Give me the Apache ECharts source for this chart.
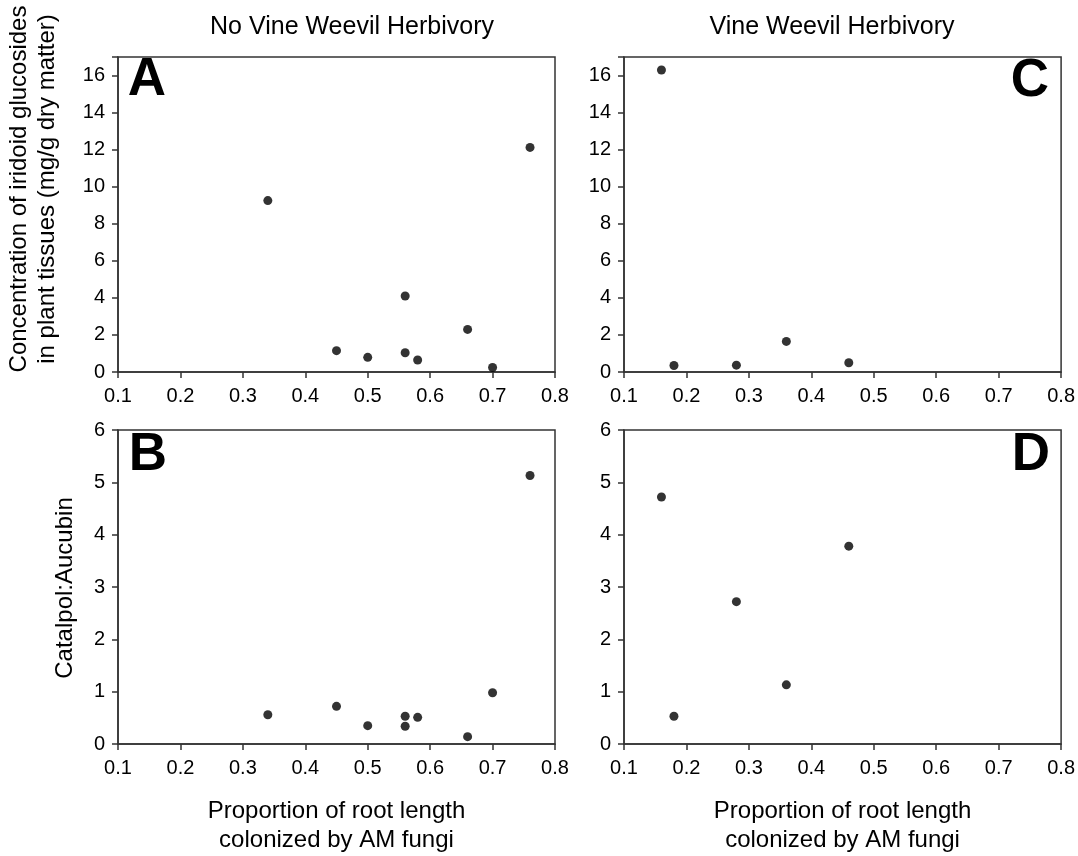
<!DOCTYPE html>
<html>
<head>
<meta charset="utf-8">
<script src="https://cdn.jsdelivr.net/npm/echarts@6/dist/echarts.min.js"></script>
<style>
  html, body { margin: 0; padding: 0; background: #fff; }
  #chart { width: 1078px; height: 856px; }
</style>
</head>
<body>
<div id="chart"></div>
<script>
// no vine weevil (A, B) share x values
const xNoWeevil = [0.34, 0.45, 0.50, 0.56, 0.56, 0.58, 0.66, 0.70, 0.76]
const concNoWeevil = [9.25, 1.15, 0.79, 4.10, 1.04, 0.65, 2.30, 0.24, 12.12]
const ratioNoWeevil = [0.56, 0.72, 0.35, 0.34, 0.53, 0.51, 0.14, 0.98, 5.13]

// vine weevil (C, D)
const xWeevil = [0.16, 0.18, 0.28, 0.36, 0.46]
const concWeevil = [16.3, 0.35, 0.37, 1.65, 0.50]
const ratioWeevil = [4.72, 0.53, 2.72, 1.13, 3.78]

const xTicks = [0.1, 0.2, 0.3, 0.4, 0.5, 0.6, 0.7, 0.8]

const FONT = "'Liberation Sans', Arial, sans-serif"
const lineColor = '#333'

const pair = (xs, ys) => xs.map((x, i) => [x, ys[i]])

const grids = [
  { left: 118, top: 57, width: 437, height: 315 },   // A
  { left: 118, top: 430, width: 437, height: 316 },  // B
  { left: 624, top: 57, width: 438, height: 315 },   // C
  { left: 624, top: 430, width: 438, height: 315 },  // D
].map(g => ({ ...g, show: true, borderColor: lineColor, borderWidth: 1.5, backgroundColor: '#fff' }))

const setXAxis = (idx, withName) => ({
  type: 'value',
  gridIndex: idx,
  min: 0.1,
  max: 0.8,
  interval: 0.1,
  splitLine: { show: false },
  axisLine: { show: true, onZero: false, lineStyle: { color: lineColor, width: 1.5 } },
  axisTick: { show: true, length: 6, lineStyle: { color: lineColor, width: 1.5 } },
  axisLabel: {
    margin: 14,
    color: '#000',
    fontSize: 20,
    fontFamily: FONT,
    formatter: (v) => xTicks.includes(Math.round(v * 10) / 10) ? v.toFixed(1) : '',
  },
  name: withName ? 'Proportion of root length\ncolonized by AM fungi' : '',
  nameLocation: 'middle',
  nameGap: 53,
  nameTextStyle: { color: '#000', fontSize: 24, fontFamily: FONT, lineHeight: 29 },
})

const setYAxis = (idx, max, step) => ({
  type: 'value',
  gridIndex: idx,
  min: 0,
  max: max,
  interval: step,
  splitLine: { show: false },
  axisLine: { show: true, lineStyle: { color: lineColor, width: 1.5 } },
  axisTick: { show: true, length: 6, lineStyle: { color: lineColor, width: 1.5 } },
  axisLabel: {
    margin: 13,
    color: '#000',
    fontSize: 20,
    fontFamily: FONT,
    formatter: (v) => (v % step === 0 ? String(v) : ''),
  },
})

const setSeries = (idx, data) => ({
  type: 'scatter',
  xAxisIndex: idx,
  yAxisIndex: idx,
  symbol: 'circle',
  symbolSize: 9,
  itemStyle: { color: '#000' },
  data: data,
})

const txt = (x, y, text, size, extra) => ({
  type: 'text',
  x: x,
  y: y,
  z: 100,
  style: {
    text: text,
    font: `${size}px ${FONT}`,
    fill: '#000',
    align: 'center',
    verticalAlign: 'middle',
    ...extra,
  },
})

const option = {
  animation: false,
  backgroundColor: '#fff',
  grid: grids,
  xAxis: [setXAxis(0, false), setXAxis(1, true), setXAxis(2, false), setXAxis(3, true)],
  yAxis: [setYAxis(0, 17, 2), setYAxis(1, 6, 1), setYAxis(2, 17, 2), setYAxis(3, 6, 1)],
  series: [
    setSeries(0, pair(xNoWeevil, concNoWeevil)),
    setSeries(1, pair(xNoWeevil, ratioNoWeevil)),
    setSeries(2, pair(xWeevil, concWeevil)),
    setSeries(3, pair(xWeevil, ratioWeevil)),
  ],
  graphic: [
    txt(352, 27, 'No Vine Weevil Herbivory', 25),
    txt(832, 27, 'Vine Weevil Herbivory', 25),
    { ...txt(19, 189, 'Concentration of iridoid glucosides', 24), rotation: Math.PI / 2 },
    { ...txt(47, 189, 'in plant tissues (mg/g dry matter)', 24), rotation: Math.PI / 2 },
    { ...txt(65, 588, 'Catalpol:Aucubin', 24), rotation: Math.PI / 2 },
    txt(147, 80, 'A', 53, { font: `bold 53px ${FONT}` }),
    txt(148, 455, 'B', 53, { font: `bold 53px ${FONT}` }),
    txt(1030, 81, 'C', 53, { font: `bold 53px ${FONT}` }),
    txt(1031, 455, 'D', 53, { font: `bold 53px ${FONT}` }),
  ],
}

const myChart = echarts.init(document.getElementById('chart'), null, { renderer: 'canvas' })
myChart.setOption(option)
</script>
</body>
</html>
